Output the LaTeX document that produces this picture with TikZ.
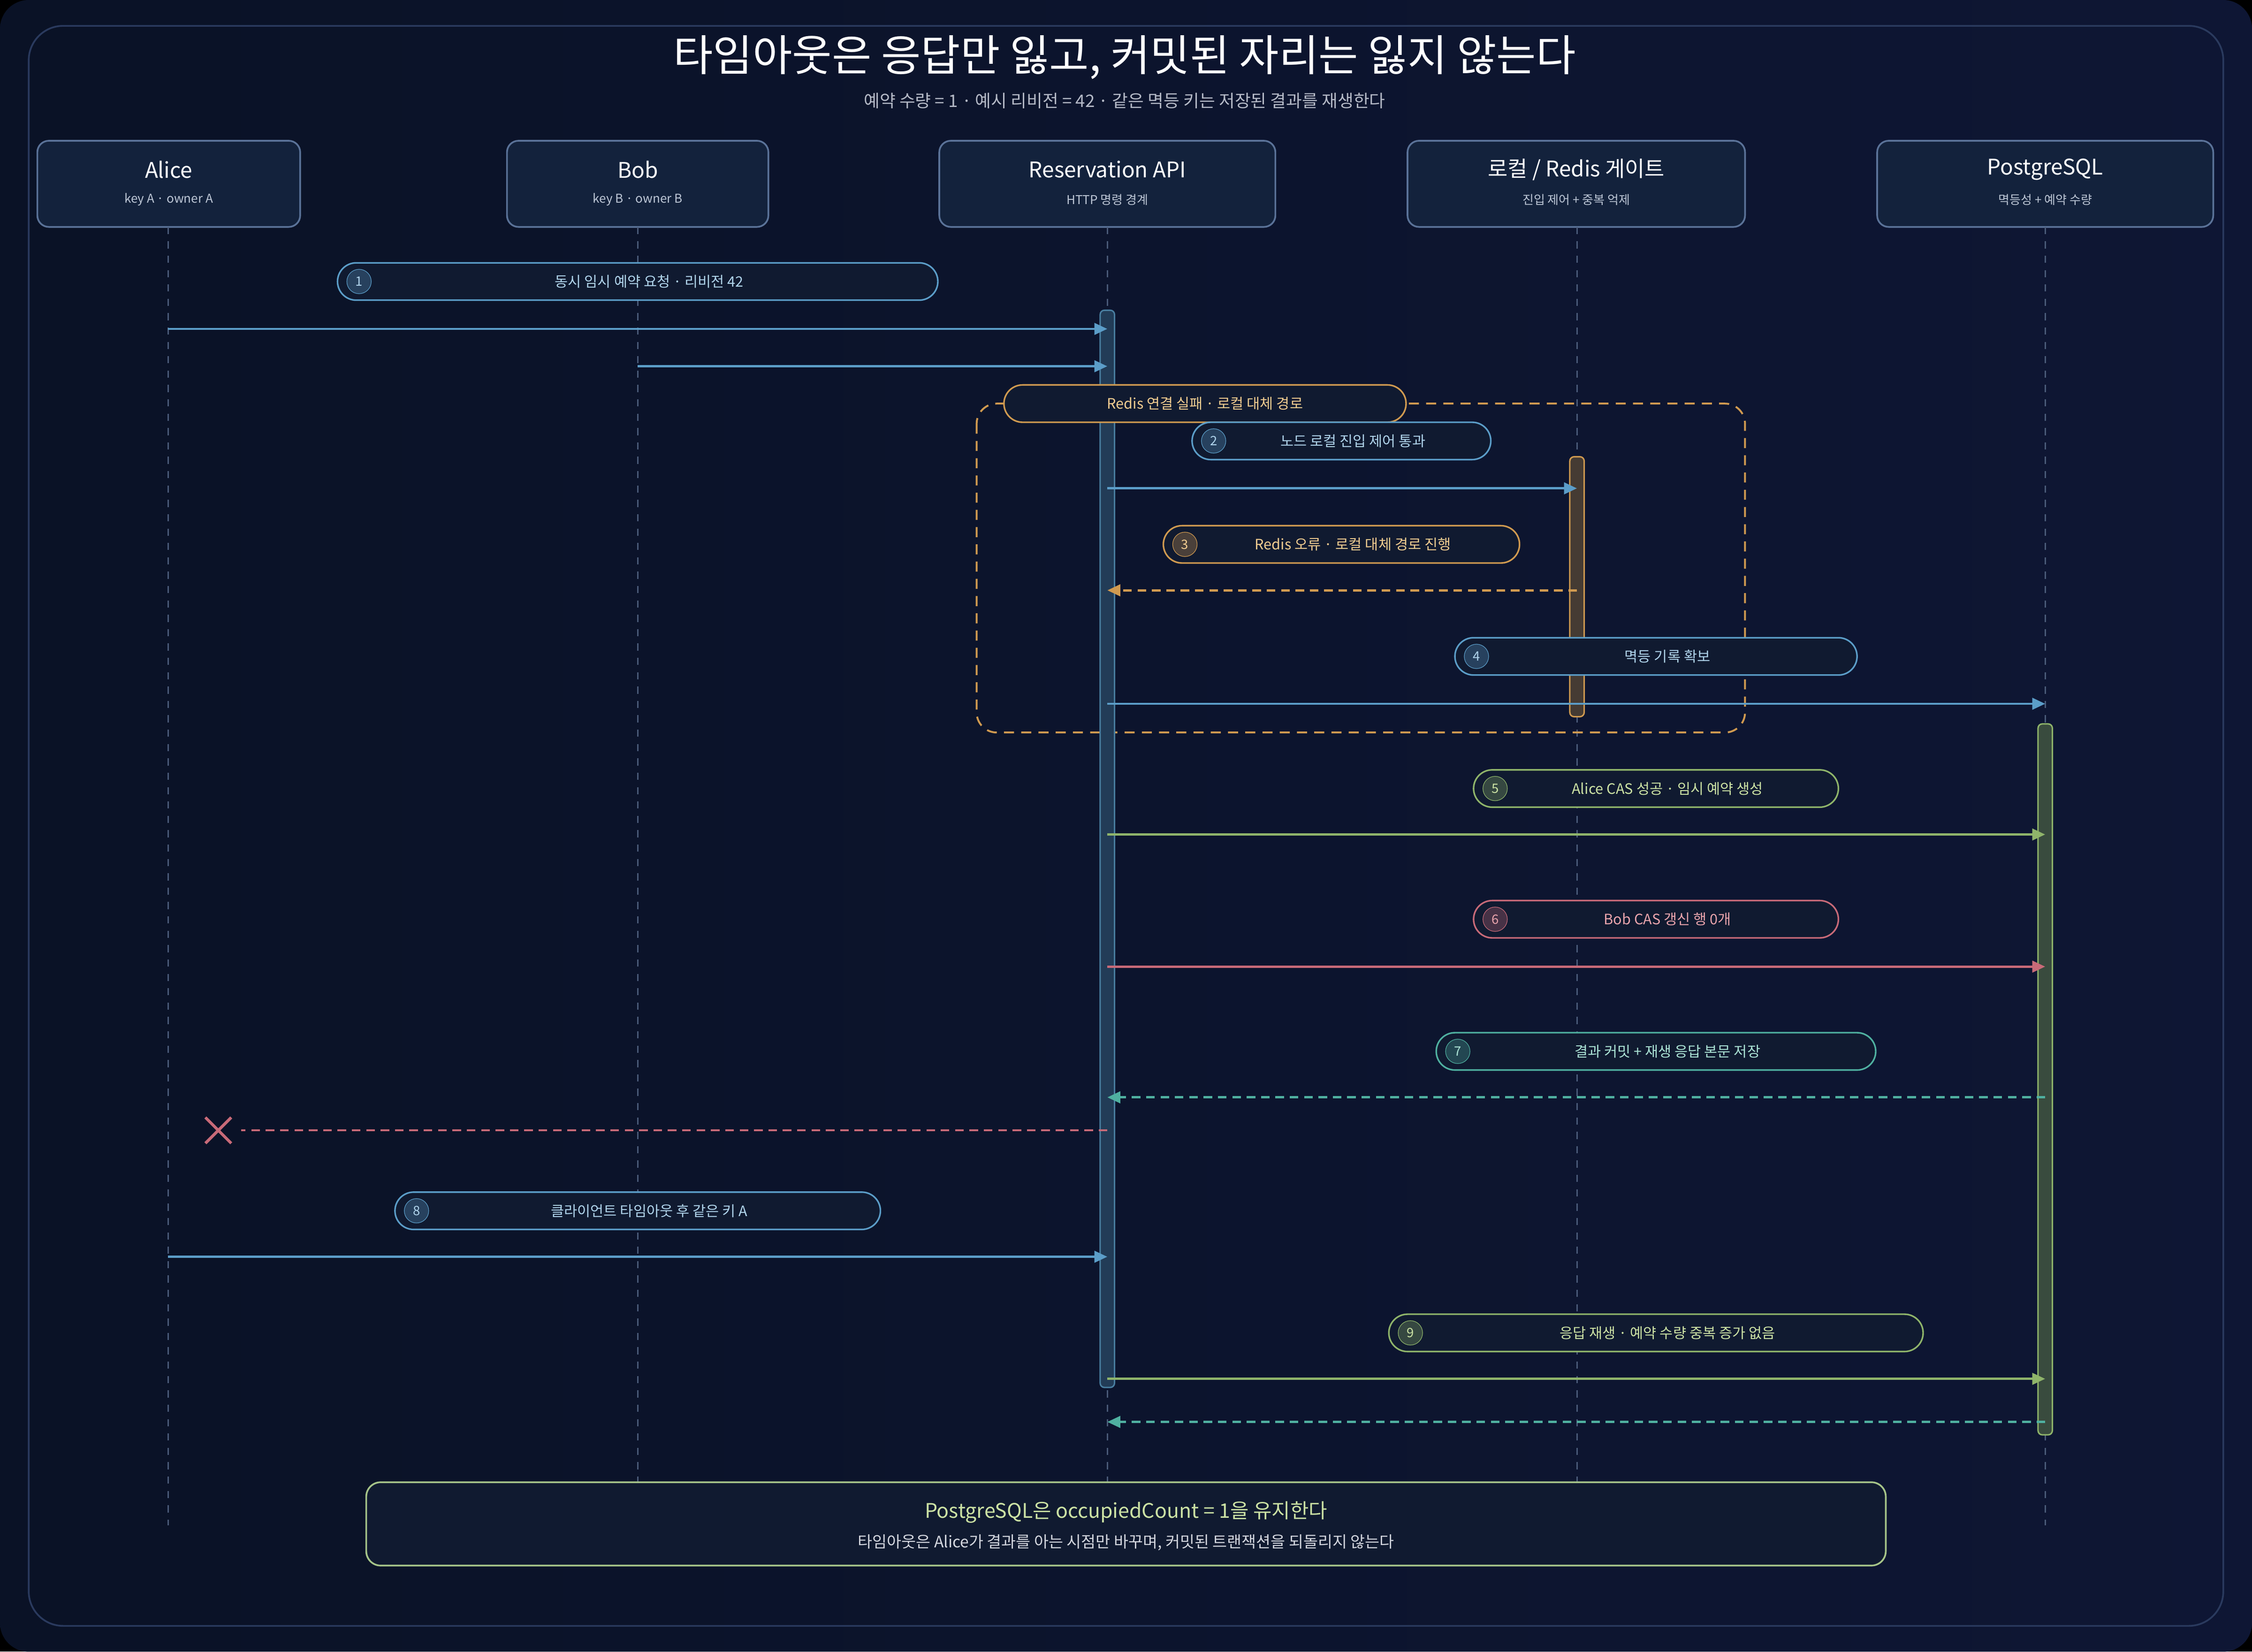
\documentclass[tikz,border=0pt]{standalone}
\usepackage{fontspec}
\setmainfont{Noto Sans CJK KR}
\usetikzlibrary{arrows.meta,calc}
\definecolor{bgA}{HTML}{0A1226}
\definecolor{bgB}{HTML}{0E1634}
\definecolor{frame}{HTML}{2A3A5E}
\definecolor{pbox}{HTML}{13223C}
\definecolor{pline}{HTML}{5A7298}
\definecolor{life}{HTML}{4A5A78}
\definecolor{cblue}{HTML}{5B9DC8}
\definecolor{tblue}{HTML}{B0D4EC}
\definecolor{corange}{HTML}{D09A50}
\definecolor{torange}{HTML}{F2CC90}
\definecolor{cgreen}{HTML}{8FB46A}
\definecolor{tgreen}{HTML}{CCE2A4}
\definecolor{cred}{HTML}{C86A78}
\definecolor{tred}{HTML}{EAA4AC}
\definecolor{cteal}{HTML}{4FB0A0}
\definecolor{tteal}{HTML}{ACE4D6}
\definecolor{pillbg}{HTML}{101A30}
\tikzset{
 x=1pt,y=-1pt,
 part/.style={draw=pline,fill=pbox,rounded corners=8pt,line width=1.2pt},
 lifeline/.style={draw=life,dash pattern=on 5pt off 5pt,line width=0.9pt},
 msg/.style={line width=1.6pt,-{Triangle[length=9pt,width=8pt]}},
 ret/.style={msg,dash pattern=on 6pt off 4pt},
 pill/.style={draw=#1,fill=pillbg,rounded corners=13pt,line width=1.1pt},
 ptext/.style={font=\fontsize{10}{12}\selectfont},
}
\newcommand{\mypill}[8]{% name,x1,x2,y,col,tcol,num,text
 \draw[pill=#5] (#2,#4-13) rectangle (#3,#4+13);
 \node[circle,draw=#5,fill=#5!30!pillbg,minimum size=17pt,inner sep=0pt,text=#6,font=\fontsize{9}{10}\selectfont] (#1n) at (#2+15,#4) {#7};
 \node[ptext,text=#6] (#1) at ({(#2+#3)/2+8},#4) {#8};}
\begin{document}
\begin{tikzpicture}
\useasboundingbox (0,0) rectangle (1568,1150);
\fill[black] (0,0) rectangle (1568,1150);
\shade[left color=bgA,right color=bgB,rounded corners=20pt] (0,0) rectangle (1568,1150);
\draw[frame,line width=1.2pt,rounded corners=24pt] (20,18) rectangle (1548,1132);
\node[text=white,font=\fontsize{30}{36}\selectfont] (title) at (783,40) {타임아웃은 응답만 잃고, 커밋된 자리는 잃지 않는다};
\node[text=white!65!frame,font=\fontsize{12}{14}\selectfont] (sub) at (783,70) {예약 수량 = 1 · 예시 리비전 = 42 · 같은 멱등 키는 저장된 결과를 재생한다};
% participants
\foreach \n/\a/\b/\t/\s in {alice/26/209/Alice/key A · owner A, bob/353/535/Bob/key B · owner B, api/654/888/Reservation API/HTTP 명령 경계, gate/980/1215/{로컬 / Redis 게이트}/진입 제어 + 중복 억제, pg/1307/1541/PostgreSQL/멱등성 + 예약 수량}{
 \draw[part] (\a,98) rectangle (\b,158);
 \node[text=white,font=\fontsize{15}{18}\selectfont] (\n) at ({(\a+\b)/2},118) {\t};
 \node[text=white!60!pline,font=\fontsize{8.5}{10}\selectfont] (\n s) at ({(\a+\b)/2},139) {\s};
}
\foreach \n/\x in {alice/117,bob/444,api/771,gate/1098,pg/1424}{
 \coordinate (\n T) at (\x,158); \coordinate (\n B) at (\x,1062);
 \draw[lifeline] (\n T) -- (\n B);
}
% group
\draw[corange,line width=1.3pt,dash pattern=on 7pt off 5pt,rounded corners=14pt] (680,281) rectangle (1215,510);
% activations
\draw[draw=cblue!80!black,fill=cblue!30!bgA,line width=1pt,rounded corners=3pt] (766,216) rectangle (776,966);
\draw[draw=corange,fill=corange!30!bgA,line width=1pt,rounded corners=3pt] (1093,318) rectangle (1103,499);
\draw[draw=cgreen,fill=cgreen!35!bgA,line width=1pt,rounded corners=3pt] (1419,504) rectangle (1429,999);
\draw[pill=corange] (699,268) rectangle (979,294);
\node[ptext,text=torange] (grp) at (839,281) {Redis 연결 실패 · 로컬 대체 경로};
% messages
\mypill{p1}{235}{653}{196}{cblue}{tblue}{1}{동시 임시 예약 요청 · 리비전 42}
\draw[msg,cblue] (117,229) -- (771,229);
\draw[msg,cblue] (444,255) -- (771,255);
\mypill{p2}{830}{1038}{307}{cblue}{tblue}{2}{노드 로컬 진입 제어 통과}
\draw[msg,cblue] (771,340) -- (1098,340);
\mypill{p3}{810}{1058}{379}{corange}{torange}{3}{Redis 오류 · 로컬 대체 경로 진행}
\draw[ret,corange] (1098,411) -- (771,411);
\mypill{p4}{1013}{1293}{457}{cblue}{tblue}{4}{멱등 기록 확보}
\draw[msg,cblue] (771,490) -- (1424,490);
\mypill{p5}{1026}{1280}{549}{cgreen}{tgreen}{5}{Alice CAS 성공 · 임시 예약 생성}
\draw[msg,cgreen] (771,581) -- (1424,581);
\mypill{p6}{1026}{1280}{640}{cred}{tred}{6}{Bob CAS 갱신 행 0개}
\draw[msg,cred] (771,673) -- (1424,673);
\mypill{p7}{1000}{1306}{732}{cteal}{tteal}{7}{결과 커밋 + 재생 응답 본문 저장}
\draw[ret,cteal] (1424,764) -- (771,764);
\coordinate (lost) at (152,787);
\draw[cred,line width=1.3pt,dash pattern=on 6pt off 4pt] (771,787) -- (168,787);
\draw[cred,line width=2pt] ($(lost)+(-9,-9)$) -- ($(lost)+(9,9)$) ($(lost)+(-9,9)$) -- ($(lost)+(9,-9)$);
\mypill{p8}{275}{613}{843}{cblue}{tblue}{8}{클라이언트 타임아웃 후 같은 키 A}
\draw[msg,cblue] (117,875) -- (771,875);
\mypill{p9}{967}{1339}{928}{cgreen}{tgreen}{9}{응답 재생 · 예약 수량 중복 증가 없음}
\draw[msg,cgreen] (771,960) -- (1424,960);
\draw[ret,cteal] (1424,990) -- (771,990);
% bottom
\draw[draw=cgreen!80!white,fill=pillbg,rounded corners=10pt,line width=1.2pt] (255,1032) rectangle (1313,1090);
\node[text=tgreen,font=\fontsize{14}{16}\selectfont] (bt) at (784,1053) {PostgreSQL은 occupiedCount = 1을 유지한다};
\node[text=white!80!frame,font=\fontsize{11}{13}\selectfont] (bs) at (784,1074) {타임아웃은 Alice가 결과를 아는 시점만 바꾸며, 커밋된 트랜잭션을 되돌리지 않는다};
\end{tikzpicture}
\end{document}
